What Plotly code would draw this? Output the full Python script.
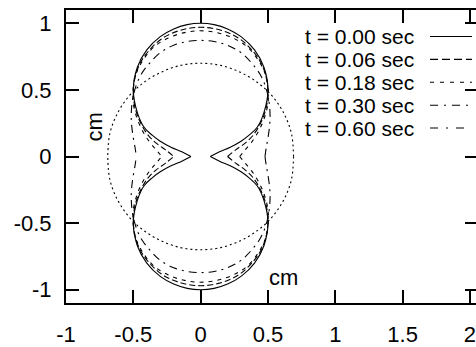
import plotly.graph_objects as go

# Outline of the shape in the first quadrant (x >= 0, y >= 0), listed from
# the point on the x axis up to the top of the upper lobe. The outline is
# symmetric about both axes, so the other quadrants are mirrored copies.
T000_X = [0.072, 0.14, 0.22, 0.30, 0.36, 0.42, 0.47, 0.50, 0.47, 0.40, 0.30, 0.20, 0.10, 0.0]
T000_Y = [0.0, 0.035, 0.07, 0.115, 0.16, 0.22, 0.33, 0.50, 0.67, 0.80, 0.90, 0.958, 0.99, 1.0]

T006_X = [0.20, 0.26, 0.33, 0.39, 0.44, 0.48, 0.50, 0.49, 0.45, 0.38, 0.28, 0.15, 0.0]
T006_Y = [0.0, 0.05, 0.10, 0.16, 0.24, 0.34, 0.46, 0.58, 0.70, 0.80, 0.89, 0.948, 0.97]

T018_X = [0.29, 0.33, 0.38, 0.43, 0.47, 0.50, 0.50, 0.48, 0.43, 0.35, 0.24, 0.12, 0.0]
T018_Y = [0.0, 0.05, 0.11, 0.19, 0.28, 0.40, 0.52, 0.62, 0.72, 0.82, 0.89, 0.93, 0.944]

T030_X = [0.478, 0.486, 0.50, 0.513, 0.515, 0.505, 0.48, 0.44, 0.38, 0.30, 0.20, 0.10, 0.0]
T030_Y = [0.0, 0.06, 0.14, 0.24, 0.33, 0.43, 0.53, 0.62, 0.70, 0.78, 0.835, 0.863, 0.872]

T060_X = [0.69, 0.675, 0.62, 0.535, 0.43, 0.30, 0.15, 0.0]
T060_Y = [0.0, 0.17, 0.32, 0.45, 0.55, 0.63, 0.684, 0.70]

TIME_LABELS = ["t = 0.00 sec", "t = 0.06 sec", "t = 0.18 sec", "t = 0.30 sec", "t = 0.60 sec"]
OUTLINES = [(T000_X, T000_Y), (T006_X, T006_Y), (T018_X, T018_Y),
            (T030_X, T030_Y), (T060_X, T060_Y)]

X_TICKS = [-1, -0.5, 0, 0.5, 1, 1.5, 2]
X_TICK_TEXT = ["-1", "-0.5", "0", "0.5", "1", "1.5", "2"]
Y_TICKS = [-1, -0.5, 0, 0.5, 1]
Y_TICK_TEXT = ["-1", "-0.5", "0", "0.5", "1"]

# line patterns on the curves and on the key samples
CURVE_DASH = ["solid", "6px,3px", "4px,5px", "8px,5px,2px,5px", "2px,3px"]
KEY_DASH = ["solid", "8px,4px", "4px,6px", "8px,6px,2px,6px", "8px,8px,2px,8px"]

FONT = "Liberation Sans, Arial, sans-serif"
W, H = 476, 347
ML, MR, MT, MB = 66, 0, 10, 33


def px_to_paper(px, py):
    return (px - ML) / (W - ML - MR), (H - MB - py) / (H - MT - MB)


def upper_half(qx, qy):
    # right pinch -> top -> left pinch
    xs = list(qx) + [-v for v in reversed(qx[:-1])]
    ys = list(qy) + list(reversed(qy[:-1]))
    return xs, ys


fig = go.Figure()
for (qx, qy), dash, name in zip(OUTLINES, CURVE_DASH, TIME_LABELS):
    xs, ys = upper_half(qx, qy)
    for sign in (1, -1):
        fig.add_trace(go.Scatter(
            x=xs, y=[sign * v for v in ys], mode="lines", name=name,
            line=dict(color="black", width=1.1, dash=dash, shape="spline", smoothing=1.0),
            showlegend=False, hoverinfo="skip"))

# carrier for the right-hand tick marks
fig.add_trace(go.Scatter(x=[None], y=[None], yaxis="y2", showlegend=False, hoverinfo="skip"))

# key: text on the left, line sample on the right
shapes = []
annotations = []
row_y = [37.5, 61.25, 85, 108.75, 132.5]
for label, dash, ry in zip(TIME_LABELS, KEY_DASH, row_y):
    tx, ty = px_to_paper(415, ry)
    annotations.append(dict(x=tx, y=ty, xref="paper", yref="paper", text=label,
                            showarrow=False, xanchor="right", yanchor="middle",
                            borderpad=0,
                            font=dict(family=FONT, size=21, color="black")))
    x0, y0 = px_to_paper(430, ry)
    x1, _ = px_to_paper(472, ry)
    shapes.append(dict(type="line", xref="paper", yref="paper", x0=x0, x1=x1, y0=y0, y1=y0,
                       line=dict(color="black", width=1.1, dash=dash)))

# axis titles
cx, cy = px_to_paper(95, 132)
annotations.append(dict(x=cx, y=cy, xref="paper", yref="paper", text="cm", textangle=-90,
                        showarrow=False, xanchor="center", yanchor="middle",
                        font=dict(family=FONT, size=22, color="black")))
cx, cy = px_to_paper(283, 288)
annotations.append(dict(x=cx, y=cy, xref="paper", yref="paper", text="cm",
                        showarrow=False, xanchor="center", yanchor="middle",
                        font=dict(family=FONT, size=22, color="black")))

axis_common = dict(showgrid=False, zeroline=False, ticks="inside", ticklen=13, tickwidth=1.5,
                   tickcolor="black", showline=True, linecolor="black", linewidth=2,
                   tickfont=dict(family=FONT, size=22, color="black"),
                   ticklabeloverflow="allow")

fig.update_layout(
    width=W, height=H,
    margin=dict(l=ML, r=MR, t=MT, b=MB, pad=0),
    paper_bgcolor="white", plot_bgcolor="white",
    xaxis=dict(range=[-1, 2.045], tickvals=X_TICKS, ticktext=X_TICK_TEXT, mirror="ticks",
               ticklabelstandoff=11, **axis_common),
    yaxis=dict(range=[-1.1, 1.1], tickvals=Y_TICKS, ticktext=Y_TICK_TEXT,
               ticklabelstandoff=8, **axis_common),
    yaxis2=dict(range=[-1.1, 1.1], overlaying="y", side="right", anchor="free", position=1.0,
                tickvals=Y_TICKS, showticklabels=False, ticks="inside", ticklen=11,
                tickwidth=1.5, tickcolor="black", showline=False, showgrid=False, zeroline=False),
    shapes=shapes,
    annotations=annotations,
    showlegend=False,
)

fig.write_html("out.html")
